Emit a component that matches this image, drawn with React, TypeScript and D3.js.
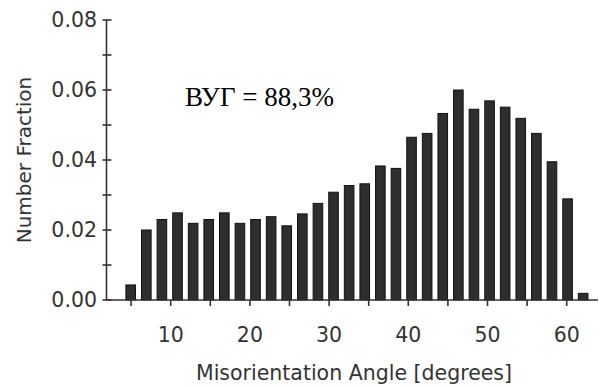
import * as d3 from "d3";

// bin centres (degrees) and number fraction per bin
const angles = [
  4.95, 6.92, 8.89, 10.86, 12.83, 14.8, 16.77, 18.74, 20.71, 22.68,
  24.65, 26.62, 28.59, 30.56, 32.53, 34.5, 36.47, 38.44, 40.41, 42.38,
  44.35, 46.32, 48.29, 50.26, 52.23, 54.2, 56.17, 58.14, 60.11, 62.08,
];
const fractions = [
  0.0043, 0.02, 0.023, 0.0249, 0.0219, 0.023, 0.0249, 0.0219, 0.023, 0.0238,
  0.0212, 0.0246, 0.0276, 0.0308, 0.0327, 0.0332, 0.0383, 0.0376, 0.0465, 0.0476,
  0.0533, 0.06, 0.0545, 0.0569, 0.0551, 0.0519, 0.0476, 0.0395, 0.0289, 0.0019,
];
const yMajor = [0, 0.02, 0.04, 0.06, 0.08];
const yMinor = [0.01, 0.03, 0.05, 0.07];
const xMinor = [5, 15, 25, 35, 45, 55];
const xMajor = [10, 20, 30, 40, 50, 60];
const note = "ВУГ = 88,3%";

const W = 599;
const H = 387;
const axisLeft = 106.5;
const axisRight = 598;
const axisColor = "#333";
const textColor = "#333";
const font = "DejaVu Sans, Verdana, sans-serif";
const fs = 20.5;

export default function App() {
  const x = d3.scaleLinear().domain([0, 60]).range([91.5, 566.7]);
  const y = d3.scaleLinear().domain([0, 0.08]).range([300, 20]);
  const barW = 9.6;

  return (
    <svg
      width={W}
      height={H}
      style={{ position: "absolute", left: 0, top: 0, background: "#fff" }}
    >
      {/* bars */}
      {fractions.map((v, i) => (
        <rect
          key={i}
          x={x(angles[i]) - barW / 2}
          y={y(v)}
          width={barW}
          height={y(0) - y(v)}
          fill="#2e2e2e"
          stroke="#111"
          strokeWidth={1}
        />
      ))}

      {/* y axis */}
      <line x1={axisLeft} x2={axisLeft} y1={y(0.08)} y2={y(0)} stroke={axisColor} strokeWidth={1.6} />
      {[...yMajor, ...yMinor].map((t) => (
        <line key={"yt" + t} x1={axisLeft - 4} x2={axisLeft + 5} y1={y(t)} y2={y(t)} stroke={axisColor} strokeWidth={1.6} />
      ))}
      {yMajor.map((t) => (
        <text
          key={"yl" + t}
          x={97}
          y={y(t)}
          dy="0.35em"
          textAnchor="end"
          fontFamily={font}
          fontSize={fs}
          fill={textColor}
        >
          {d3.format(".2f")(t)}
        </text>
      ))}

      {/* x axis */}
      <line x1={axisLeft} x2={axisRight} y1={y(0)} y2={y(0)} stroke={axisColor} strokeWidth={1.6} />
      {[...xMinor, ...xMajor].map((t) => (
        <line key={"xt" + t} x1={x(t)} x2={x(t)} y1={y(0)} y2={y(0) + 6} stroke={axisColor} strokeWidth={1.6} />
      ))}
      {xMajor.map((t) => (
        <text
          key={"xl" + t}
          x={x(t)}
          y={335}
          dy="0.35em"
          textAnchor="middle"
          fontFamily={font}
          fontSize={fs}
          fill={textColor}
        >
          {t}
        </text>
      ))}

      {/* axis titles */}
      <text
        x={354}
        y={373}
        dy="0.35em"
        textAnchor="middle"
        fontFamily={font}
        fontSize={fs}
        fill={textColor}
      >
        Misorientation Angle [degrees]
      </text>
      <text
        transform={`translate(24,160) rotate(-90)`}
        dy="0.35em"
        textAnchor="middle"
        fontFamily={font}
        fontSize={20}
        fill={textColor}
      >
        Number Fraction
      </text>

      {/* annotation */}
      <text x={185} y={106} fontFamily="Liberation Serif, Times New Roman, serif" fontSize={27} fill="#000">
        {note}
      </text>
    </svg>
  );
}
